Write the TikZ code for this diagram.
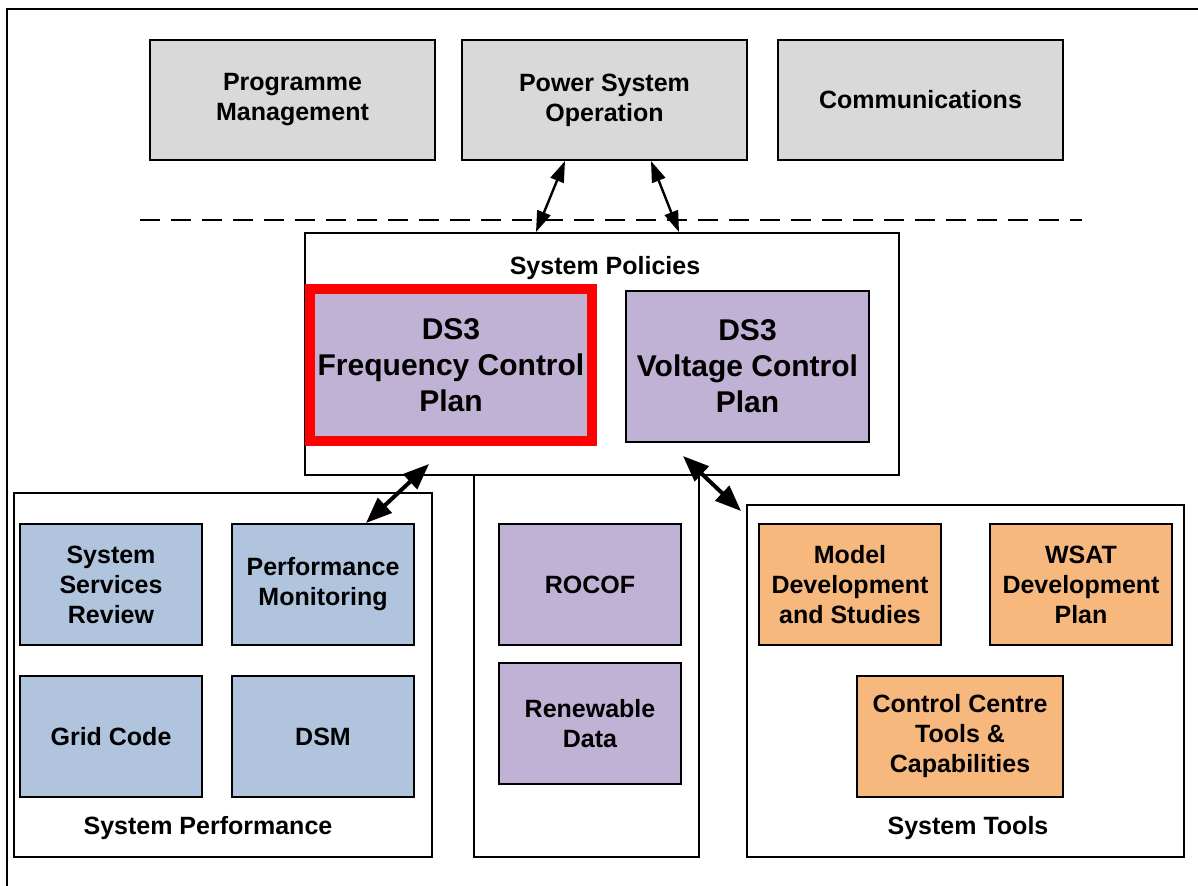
\documentclass[tikz,border=0pt]{standalone}
\usepackage{fontspec}
\setmainfont{Liberation Sans}
\usetikzlibrary{arrows.meta}
\definecolor{boxgray}{HTML}{D9D9D9}
\definecolor{boxpurple}{HTML}{C0B2D4}
\definecolor{boxblue}{HTML}{B0C4DE}
\definecolor{boxorange}{HTML}{F7B87E}
\definecolor{framered}{HTML}{FF0000}
\tikzset{
  basebox/.style={draw=black, line width=1pt, rectangle, align=center, inner sep=0pt,
    font=\fontsize{12.5}{15}\selectfont\bfseries},
  graybox/.style={basebox, fill=boxgray, minimum width=142.5pt, minimum height=60pt},
  bluebox/.style={basebox, fill=boxblue, minimum width=91pt, minimum height=60.5pt},
  purplebox/.style={basebox, fill=boxpurple, minimum width=91pt, minimum height=60.5pt},
  orangebox/.style={basebox, fill=boxorange, minimum width=91pt, minimum height=60.5pt},
  bigbox/.style={basebox, fill=boxpurple, font=\fontsize{15}{18}\selectfont\bfseries},
  container/.style={draw=black, line width=1pt, rectangle, fill=white, inner sep=0pt},
  lbl/.style={font=\fontsize{12.5}{15}\selectfont\bfseries, inner sep=0pt},
  thinarrow/.style={line width=1.2pt, {Triangle[length=10.5pt,width=7pt]}-{Triangle[length=10.5pt,width=7pt]}},
  thickarrow/.style={line width=2pt, {Triangle[length=13pt,width=10pt]}-{Triangle[length=13pt,width=10pt]}}
}
\begin{document}
\begin{tikzpicture}[x=0.5pt,y=-0.5pt]
\useasboundingbox (0,0) rectangle (1198,885);
% outer frame
\draw[line width=1pt] (7,890) -- (7,9) -- (1205,9);

% top row
\node[graybox] (pm) at (292.5,100) {Programme\\Management};
\node[graybox] (pso) at (604.5,100) {Power System\\Operation};
\node[graybox] (com) at (920.5,100) {Communications};

% dashed separator
\coordinate (dl) at (140,220);
\coordinate (dr) at (1082,220);
\draw[line width=1pt, dash pattern=on 10pt off 5.5pt] (dl) -- (dr);

% containers
\node[container, minimum width=209pt, minimum height=182pt] (perf) at (223,675) {};
\node[container, minimum width=112.5pt, minimum height=191pt] (mid) at (586.5,666) {};
\node[container, minimum width=218.5pt, minimum height=176pt] (tools) at (965.5,681) {};
\node[container, minimum width=297pt, minimum height=121pt] (sp) at (602,354) {};

\node[lbl] (splbl) at (605,268) {System Policies};
\node[lbl] (perflbl) at (208,828) {System Performance};
\node[lbl] (toolslbl) at (968,828) {System Tools};

% system policies content
\node[bigbox, draw=framered, line width=5pt, minimum width=141pt, minimum height=76pt] (freq) at (451,365) {DS3\\Frequency Control\\Plan};
\node[bigbox, minimum width=121.5pt, minimum height=75.5pt] (volt) at (747.5,366.5) {DS3\\Voltage Control\\Plan};

% system performance content
\node[bluebox] (ssr) at (111,584.5) {System\\Services\\Review};
\node[bluebox] (pmon) at (323,584.5) {Performance\\Monitoring};
\node[bluebox] (gc) at (111,736.5) {Grid Code};
\node[bluebox] (dsm) at (323,736.5) {DSM};

% middle content
\node[purplebox] (rocof) at (590,584.5) {ROCOF};
\node[purplebox] (ren) at (590,723.5) {Renewable\\Data};

% tools content
\node[orangebox] (model) at (850,584.5) {Model\\Development\\and Studies};
\node[orangebox] (wsat) at (1081,584.5) {WSAT\\Development\\Plan};
\node[orangebox, minimum width=103pt] (ccc) at (960,736.5) {Control Centre\\Tools \&\\Capabilities};

% arrows
\draw[thinarrow] ([xshift=-19.75pt]pso.south) -- ([xshift=-33pt]sp.north);
\draw[thinarrow] ([xshift=23.25pt]pso.south) -- ([xshift=38.5pt]sp.north);
\draw[thickarrow] ([xshift=-86.5pt,yshift=6pt]sp.south) -- ([xshift=21.5pt]pmon.north);
\draw[thickarrow] ([xshift=40.5pt,yshift=10pt]sp.south) -- ([xshift=-112.25pt,yshift=-3.5pt]tools.north);
\end{tikzpicture}
\end{document}
